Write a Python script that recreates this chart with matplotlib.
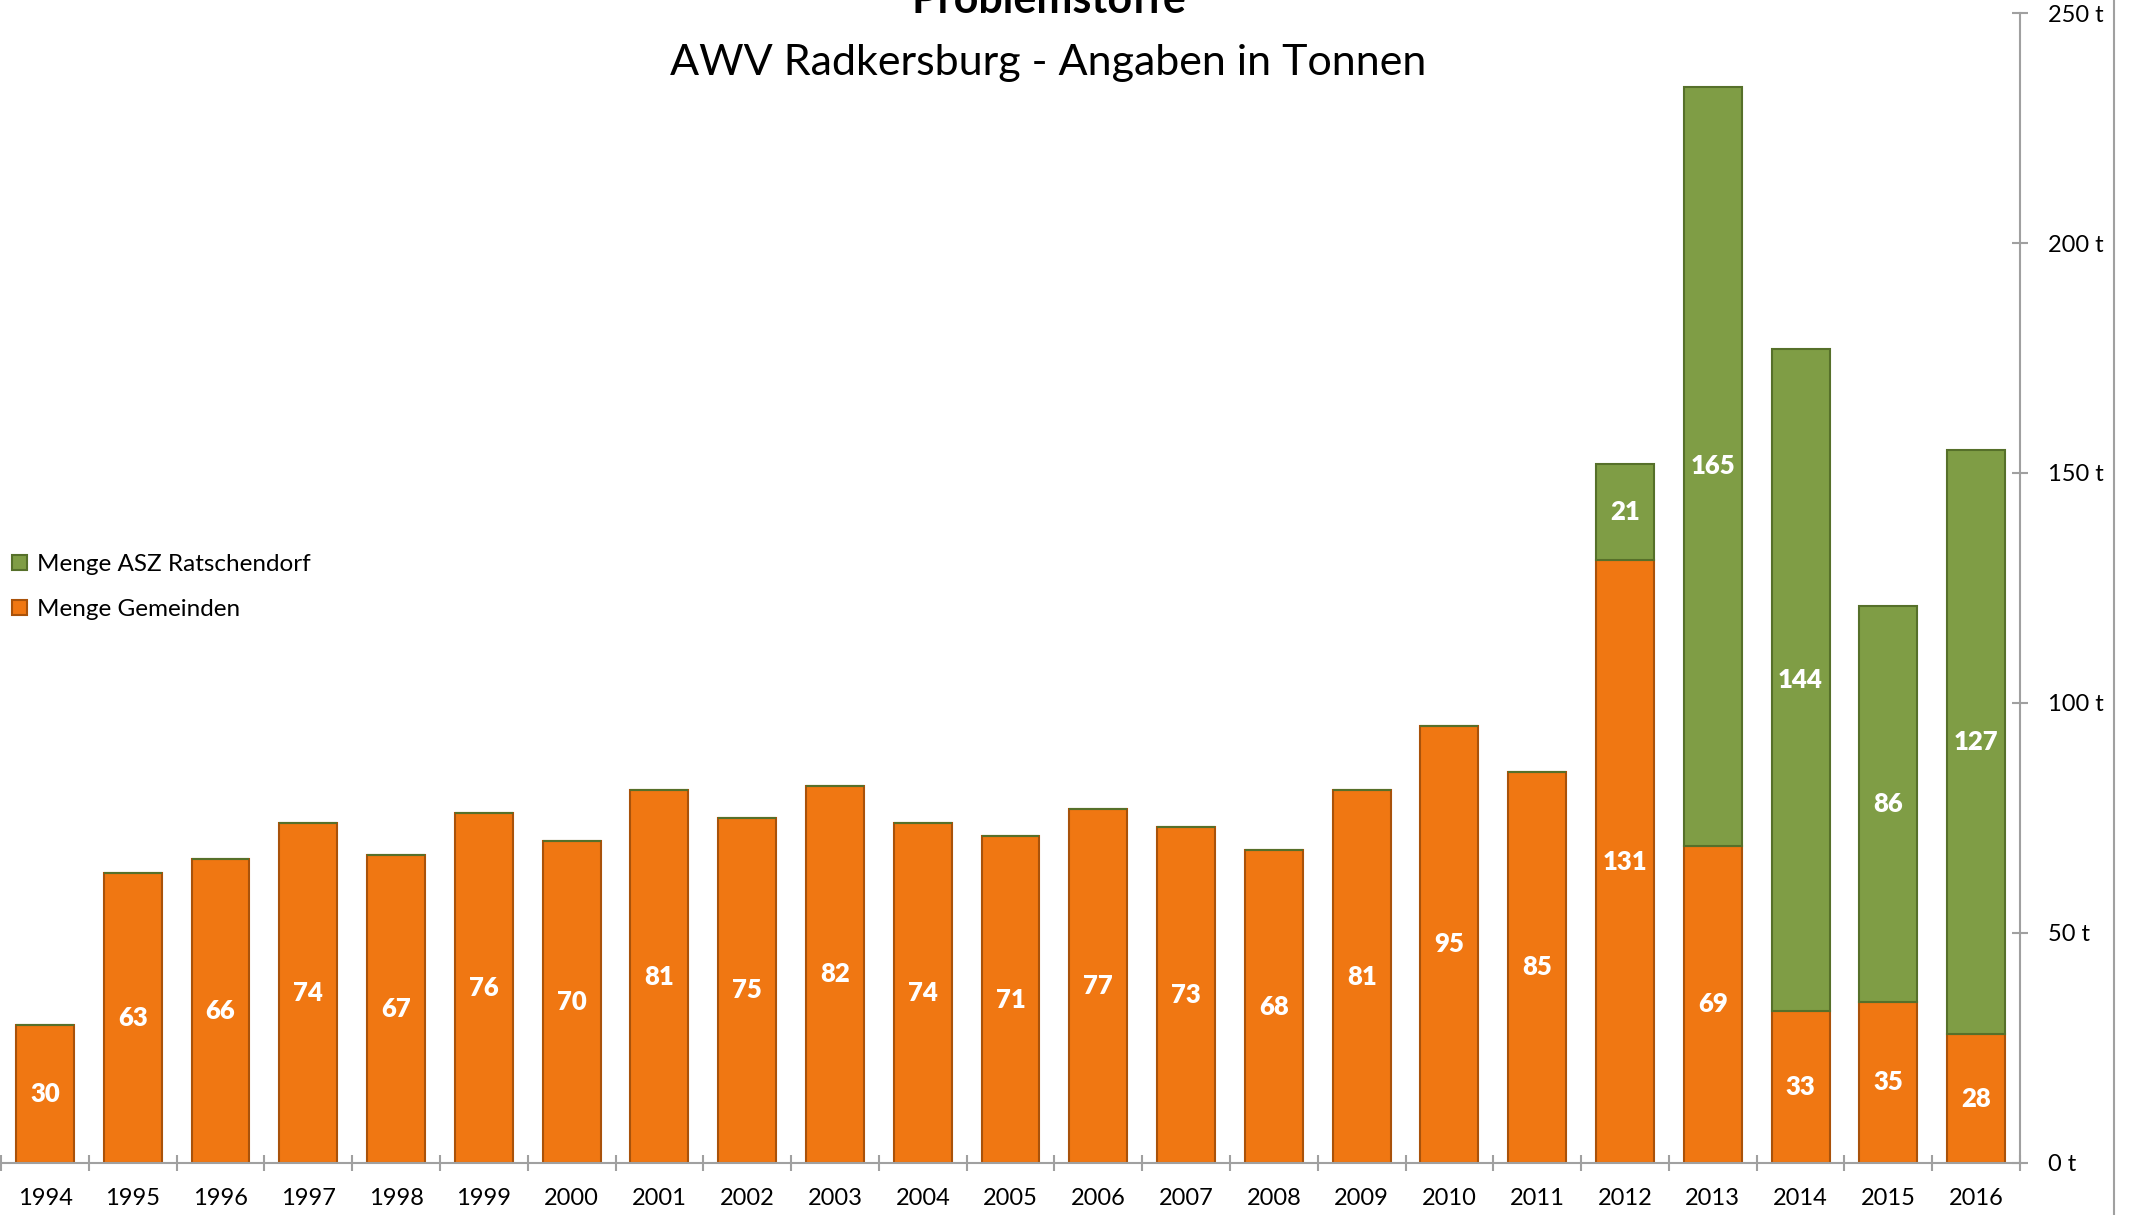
import matplotlib.pyplot as plt
import numpy as np

plt.rcParams['font.family'] = ['Lato', 'DejaVu Sans']

years = ['1994', '1995', '1996', '1997', '1998', '1999', '2000', '2001', '2002', '2003', '2004', '2005',
         '2006', '2007', '2008', '2009', '2010', '2011', '2012', '2013', '2014', '2015', '2016']
gemeinden = [30, 63, 66, 74, 67, 76, 70, 81, 75, 82, 74, 71, 77, 73, 68, 81, 95, 85, 131, 69, 33, 35, 28]
asz = [0, 0, 0, 0, 0, 0, 0, 0, 0, 0, 0, 0, 0, 0, 0, 0, 0, 0, 21, 165, 144, 86, 127]
yticks = [0, 50, 100, 150, 200, 250]

orange = '#F07712'
orange_edge = '#A9520A'
green = '#7F9D45'
green_edge = '#56702A'
gray = '#A0A0A0'

fig = plt.figure(figsize=(21.29, 12.15), dpi=100)
ax = fig.add_axes([0.0005, 0.0428, 0.9483, 0.9465])

x = np.arange(len(years))
b1 = ax.bar(x, gemeinden, width=0.66, color=orange, edgecolor=orange_edge, linewidth=1.5,
            label='Menge Gemeinden')
b2 = ax.bar(x, asz, width=0.66, bottom=gemeinden, color=green, edgecolor=green_edge, linewidth=1.5,
            label='Menge ASZ Ratschendorf')

ax.bar_label(b1, labels=[str(v) if v else '' for v in gemeinden], label_type='center',
             color='white', fontsize=18.5, fontweight='heavy')
ax.bar_label(b2, labels=[str(v) if v else '' for v in asz], label_type='center',
             color='white', fontsize=18.5, fontweight='heavy')

ax.set_xlim(-0.5, len(years) - 0.5)
ax.set_ylim(0, 250)

# x axis: labels at category centres, tick marks between categories
ax.set_xticks(x)
ax.set_xticklabels(years, fontsize=17)
ax.tick_params(axis='x', which='major', length=0, pad=18)
ax.set_xticks(np.arange(len(years) + 1) - 0.5, minor=True)
ax.tick_params(axis='x', which='minor', direction='inout', length=12, width=1.5, color=gray)

# y axis on the right
ax.yaxis.tick_right()
ax.set_yticks(yticks)
ax.set_yticklabels([f'{v} t' for v in yticks], fontsize=17)
ax.tick_params(axis='y', direction='inout', length=12, width=1.5, color=gray, pad=14)

for s in ['top', 'left']:
    ax.spines[s].set_visible(False)
for s in ['bottom', 'right']:
    ax.spines[s].set_color(gray)
    ax.spines[s].set_linewidth(1.5)

fig.text(0.4925, 0.9893, 'Problemstoffe', ha='center', va='baseline', fontsize=31, fontweight='bold')
fig.text(0.4925, 0.938, 'AWV Radkersburg - Angaben in Tonnen', ha='center', va='baseline', fontsize=31)

ax.legend(handles=[b2, b1], loc='upper left', bbox_to_anchor=(0.002, 0.536), frameon=False,
          fontsize=17.5, handlelength=0.6, handleheight=0.6, handletextpad=0.4,
          labelspacing=1.0, borderaxespad=0, borderpad=0.3)

fig.add_artist(plt.Line2D([2114 / 2129, 2114 / 2129], [0, 1], color=gray, linewidth=1.5))

plt.savefig('out.png', dpi=100)
